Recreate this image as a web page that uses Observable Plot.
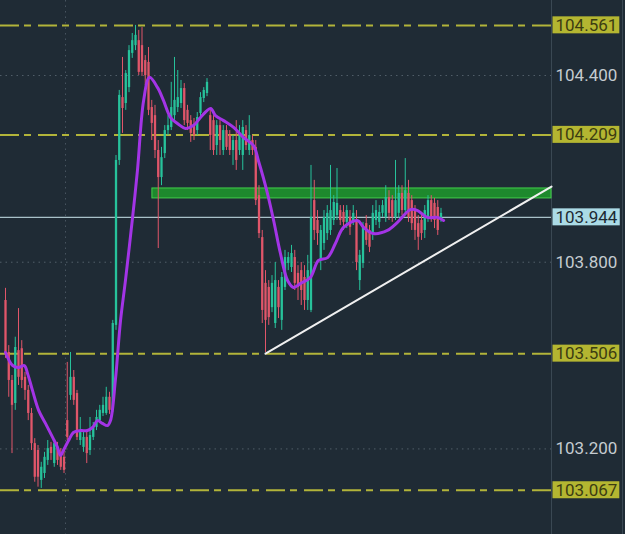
<!DOCTYPE html>
<html><head><meta charset="utf-8">
<script src="https://cdn.jsdelivr.net/npm/d3@7"></script>
<script src="https://cdn.jsdelivr.net/npm/@observablehq/plot@0.6"></script>
<style>
html,body{margin:0;padding:0;background:#1f2b35;}
#chart{width:625px;height:534px;overflow:hidden;}
</style></head><body><div id="chart"></div>
<script>
const open = [103.677,103.510,103.420,103.346,103.516,103.522,103.430,103.388,103.314,103.217,
 103.195,103.099,103.121,103.163,103.205,103.153,103.205,103.185,103.173,103.291,
 103.372,103.430,103.378,103.227,103.205,103.237,103.195,103.237,103.269,103.291,
 103.314,103.314,103.366,103.324,103.597,104.127,104.329,104.310,104.361,104.471,
 104.496,104.512,104.496,104.448,104.442,104.297,104.271,104.159,104.072,104.149,
 104.223,104.233,104.271,104.297,104.310,104.358,104.288,104.255,104.239,104.223,
 104.278,104.326,104.342,104.271,104.255,104.175,104.239,104.159,104.223,104.207,
 104.159,104.191,104.159,104.143,104.223,104.159,104.191,104.169,104.014,103.879,
 103.732,103.719,103.654,103.603,103.719,103.613,103.719,103.796,103.783,103.815,
 103.764,103.773,103.751,103.677,103.645,103.998,103.934,103.806,103.860,103.892,
 103.902,103.934,103.950,103.966,103.960,103.928,103.944,103.934,103.934,103.741,
 103.796,103.924,103.902,103.892,103.934,103.928,103.957,103.944,104.008,103.998,
 103.944,103.957,104.021,103.966,104.021,103.998,103.966,103.924,103.934,103.902,
 103.944,103.998,103.989,103.976,103.934];
const close = [103.510,103.420,103.340,103.526,103.430,103.420,103.388,103.314,103.217,103.109,
 103.109,103.141,103.173,103.201,103.185,103.217,103.163,103.141,103.131,103.237,
 103.430,103.356,103.237,103.259,103.237,103.185,103.243,103.269,103.301,103.324,
 103.340,103.366,103.324,103.603,104.127,104.336,104.294,104.406,104.480,104.512,
 104.529,104.410,104.410,104.400,104.288,104.246,104.159,104.072,104.136,104.223,
 104.239,104.297,104.320,104.329,104.358,104.255,104.246,104.214,104.207,104.265,
 104.329,104.352,104.378,104.207,104.159,104.239,104.191,104.223,104.169,104.159,
 104.191,104.127,104.207,104.233,104.175,104.207,104.159,103.998,103.892,103.645,
 103.613,103.622,103.732,103.741,103.654,103.751,103.815,103.815,103.828,103.732,
 103.719,103.709,103.677,103.773,103.944,103.902,103.892,103.902,103.944,103.957,
 103.966,103.992,103.989,103.934,103.928,103.966,103.912,103.957,103.799,103.822,
 103.912,103.870,103.848,103.957,103.966,103.960,103.982,104.008,103.957,103.944,
 103.998,104.021,103.966,104.030,103.944,103.924,103.902,103.880,103.892,103.966,
 103.998,103.944,103.934,103.902,103.957];
const high = [103.716,103.532,103.436,103.559,103.651,103.548,103.446,103.404,103.330,103.233,
 103.211,103.157,103.189,103.227,103.221,103.227,103.221,103.201,103.195,103.478,
 103.510,103.452,103.388,103.301,103.253,103.253,103.301,103.285,103.324,103.340,
 103.366,103.398,103.382,103.613,104.143,104.352,104.458,104.416,104.496,104.535,
 104.561,104.545,104.554,104.464,104.490,104.320,104.304,104.191,104.169,104.239,
 104.271,104.378,104.458,104.416,104.384,104.374,104.304,104.271,104.262,104.281,
 104.345,104.361,104.390,104.288,104.271,104.255,104.255,104.239,104.239,104.223,
 104.207,104.255,104.239,104.255,104.239,104.271,104.207,104.191,104.046,103.902,
 103.773,103.741,103.757,103.799,103.741,103.767,103.838,103.831,103.854,103.838,
 103.789,103.799,103.789,103.822,104.111,104.063,103.966,103.918,103.966,103.982,
 104.111,104.014,104.101,103.982,103.982,103.982,103.966,103.982,103.966,103.838,
 103.928,103.950,103.918,103.982,103.998,103.982,103.998,104.046,104.030,104.014,
 104.127,104.046,104.046,104.133,104.063,104.014,103.982,103.950,103.960,103.982,
 104.014,104.014,104.005,103.998,103.973];
const low = [103.491,103.366,103.185,103.324,103.404,103.394,103.356,103.291,103.195,103.093,
 103.077,103.073,103.105,103.147,103.163,103.141,103.147,103.131,103.121,103.227,
 103.356,103.340,103.227,103.211,103.189,103.153,103.179,103.227,103.259,103.282,
 103.304,103.308,103.311,103.317,103.581,104.111,104.214,104.288,104.345,104.455,
 104.480,104.400,104.397,104.368,104.271,104.191,104.133,103.844,104.046,104.133,
 104.207,104.223,104.255,104.281,104.294,104.239,104.223,104.185,104.191,104.207,
 104.262,104.313,104.332,104.159,104.143,104.143,104.143,104.143,104.159,104.143,
 104.111,104.095,104.143,104.095,104.159,104.143,104.143,103.982,103.876,103.603,
 103.510,103.597,103.638,103.587,103.619,103.581,103.709,103.773,103.767,103.709,
 103.677,103.661,103.645,103.645,103.638,103.870,103.854,103.773,103.838,103.870,
 103.886,103.918,103.934,103.918,103.902,103.908,103.886,103.918,103.773,103.709,
 103.780,103.854,103.831,103.870,103.918,103.908,103.944,103.928,103.934,103.928,
 103.934,103.941,103.950,103.950,103.928,103.902,103.870,103.838,103.870,103.876,
 103.928,103.928,103.908,103.886,103.928];
const maIdx = [0,2.2,4,5.8,6.8,8.3,10.2,12.3,14.5,16,16.9,17.8,19.4,20.9,23.1,25.2,26.8,28.3,29.8,31.4,
 32.3,33.8,35.4,36.9,39.1,40.6,42.5,44.3,46.8,48.6,50.8,52.9,55.4,57.8,60,63.1,64.6,67.1,70.2,73.2,
 76.3,77.8,79.4,80.6,82.5,84.6,86.8,88.6,90.8,93.8,96.3,99.1,101.5,104,108.3,110.2,113.2,117.5,120.6,124.6,
 126.8,129.8,132.9,134.8];
const maVal = [103.510,103.468,103.462,103.468,103.442,103.388,103.324,103.282,103.237,103.205,
 103.179,103.195,103.227,103.253,103.259,103.259,103.269,103.291,103.282,103.275,
 103.291,103.420,103.613,103.741,103.944,104.095,104.320,104.394,104.361,104.320,
 104.265,104.246,104.230,104.239,104.265,104.294,104.271,104.255,104.233,104.201,
 104.175,104.127,104.069,104.021,103.934,103.828,103.741,103.719,103.732,103.751,
 103.806,103.815,103.860,103.912,103.934,103.912,103.892,103.902,103.928,103.969,
 103.966,103.944,103.944,103.934];
const levels = [104.561, 104.209, 103.506, 103.067];
const currentPrice = [103.944];
const axisTicks = [104.4, 103.8, 103.2];
const timeGrid = [18.46];
const zoneIdx = [45.2, 168];
const zoneVal = [104.005, 104.037];
const trendIdx = [80, 168];
const trendVal = [103.506, 104.043];
const xDomain = [-1.54, 168];
const yDomain = [102.925, 104.641];

const GREEN = "#27c29b", RED = "#e0566a";
const candles = open.map((o, i) => ({i, o, h: high[i], l: low[i], c: close[i], col: close[i] >= o ? GREEN : RED}));
const ma = maIdx.map((x, k) => ({x, y: maVal[k]}));
const trend = trendIdx.map((x, k) => ({x, y: trendVal[k]}));
const zone = [{x1: zoneIdx[0], x2: zoneIdx[1], y1: zoneVal[0], y2: zoneVal[1]}];

const fmt = d3.format(".3f");
const chart = Plot.plot({
  width: 625, height: 534,
  marginLeft: 0, marginRight: 74, marginTop: 0, marginBottom: 0,
  style: {background: "#1f2b35", fontFamily: "Roboto, sans-serif", fontSize: "17px", color: "#c5cbd0"},
  x: {domain: xDomain, axis: null},
  y: {domain: yDomain, axis: null},
  color: {type: "identity"},
  marks: [
    Plot.gridY(axisTicks, {stroke: "#7a8894", strokeOpacity: 0.55, strokeDasharray: "1.5,4"}),
    Plot.gridX(timeGrid, {stroke: "#7a8894", strokeOpacity: 0.45, strokeDasharray: "1.5,4"}),
    Plot.ruleX([xDomain[1]], {stroke: "#3a4853", strokeWidth: 1}),
    Plot.ruleX([xDomain[1]], {stroke: "#3a4853", strokeWidth: 1, dx: 71}),
    Plot.rect(zone, {x1: "x1", x2: "x2", y1: "y1", y2: "y2", fill: "#1f9a2c", fillOpacity: 0.85, stroke: "#41d04a", strokeWidth: 1}),
    Plot.ruleY(levels, {stroke: "#b2b43a", strokeWidth: 2, strokeDasharray: "19,5,7,7"}),
    Plot.ruleY(currentPrice, {stroke: "#a9c1c9", strokeWidth: 1.2}),
    Plot.ruleX(candles, {x: "i", y1: "l", y2: "h", stroke: "col", strokeWidth: 1}),
    Plot.ruleX(candles, {x: "i", y1: "o", y2: "c", stroke: "col", strokeWidth: 2.3}),
    Plot.line(ma, {x: "x", y: "y", curve: "catmull-rom", stroke: "#a334e6", strokeWidth: 3}),
    Plot.line(trend, {x: "x", y: "y", stroke: "#f0f0f0", strokeWidth: 2}),
    Plot.axisY(axisTicks, {anchor: "right", tickSize: 0, tickPadding: 4, tickFormat: fmt, fill: "#c5cbd0", fontSize: 17}),
    Plot.text(levels, {y: d => d, frameAnchor: "right", textAnchor: "start", dx: 4, text: d => fmt(d), fill: "#3c3d12", fontSize: 17}),
    Plot.text(currentPrice, {y: d => d, frameAnchor: "right", textAnchor: "start", dx: 4, text: d => fmt(d), fill: "#1d2a33", fontSize: 17})
  ]
});
document.getElementById("chart").append(chart);

// label backgrounds, sized to each label's own text
const boxColor = new Map([
  ...levels.map(v => [fmt(v), "#b4b631"]),
  ...currentPrice.map(v => [fmt(v), "#abdbe6"])
]);
Array.from(chart.querySelectorAll("text")).forEach(t => {
  const key = t.textContent.trim();
  if (!boxColor.has(key)) return;
  const b = t.getBBox();
  const r = document.createElementNS("http://www.w3.org/2000/svg", "rect");
  r.setAttribute("x", b.x - 3);
  r.setAttribute("y", b.y + 1.5);
  r.setAttribute("width", b.width + 5);
  r.setAttribute("height", Math.max(0, b.height - 3));
  r.setAttribute("fill", boxColor.get(key));
  const tr = t.getAttribute("transform");
  if (tr) r.setAttribute("transform", tr);
  t.parentNode.insertBefore(r, t);
});
</script>
</body></html>
